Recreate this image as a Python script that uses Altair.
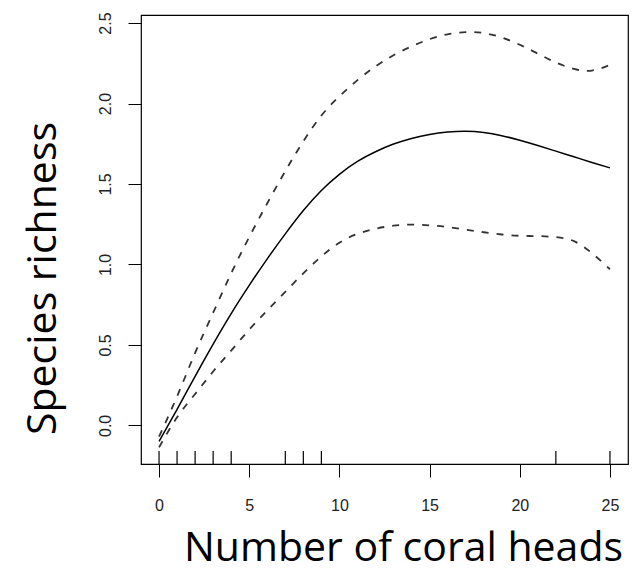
import altair as alt
import pandas as pd

# ---- data ----
x_vals = list(range(26))
fit = [-0.10, 0.10, 0.305, 0.505, 0.695, 0.87, 1.035, 1.19, 1.335, 1.46, 1.56, 1.64, 1.70,
       1.748, 1.783, 1.808, 1.823, 1.828, 1.82, 1.80, 1.772, 1.739, 1.704, 1.669, 1.634, 1.60]
upper = [-0.07, 0.18, 0.45, 0.70, 0.945, 1.17, 1.38, 1.58, 1.765, 1.925, 2.045, 2.145, 2.23,
         2.30, 2.355, 2.40, 2.43, 2.443, 2.438, 2.41, 2.365, 2.31, 2.255, 2.215, 2.205, 2.24]
lower = [-0.137, 0.05, 0.195, 0.335, 0.465, 0.595, 0.715, 0.83, 0.945, 1.05, 1.135, 1.19, 1.222,
         1.241, 1.248, 1.243, 1.232, 1.216, 1.20, 1.186, 1.178, 1.176, 1.17, 1.145, 1.07, 0.97]
rug = [0, 1, 2, 3, 4, 7, 8, 9, 22, 25]
x_ticks = [0, 5, 10, 15, 20, 25]
y_ticks = [0.0, 0.5, 1.0, 1.5, 2.0, 2.5]

fit_df = pd.DataFrame({"x": x_vals, "v": fit})
band_df = pd.concat([
    pd.DataFrame({"x": x_vals, "v": upper, "s": "upper"}),
    pd.DataFrame({"x": x_vals, "v": lower, "s": "lower"}),
])
rug_df = pd.DataFrame({"x": rug})

W, H = 487, 449

xscale = alt.Scale(domain=[-1, 26], nice=False, zero=False)
yscale = alt.Scale(domain=[-0.24, 2.55], nice=False, zero=False)

xaxis = alt.Axis(
    title="Number of coral heads", values=x_ticks, format="d",
    grid=False, domain=False, ticks=True, tickSize=13, tickColor="black", tickWidth=1,
    labelFont="Liberation Sans", labelFontSize=16, labelColor="#222",
    labelBaseline="alphabetic", labelPadding=33,
    titleFont="Open Sans", titleFontSize=41, titleFontWeight="normal", titleColor="black",
    titleX=262, titleY=96, titleAlign="center", titleBaseline="alphabetic",
)
yaxis = alt.Axis(
    title="Species richness", values=y_ticks, format=".1f",
    grid=False, domain=False, ticks=True, tickSize=13, tickColor="black", tickWidth=1,
    labelFont="Liberation Sans", labelFontSize=16, labelColor="#222",
    labelAngle=-90, labelAlign="center", labelBaseline="alphabetic", labelPadding=18,
    titleFont="Open Sans", titleFontSize=41, titleFontWeight="normal", titleColor="black",
    titleAngle=-90, titleX=-86, titleY=263, titleAlign="center", titleBaseline="alphabetic",
)

fit_line = alt.Chart(fit_df).mark_line(
    color="black", strokeWidth=1.5, interpolate="natural"
).encode(
    x=alt.X("x:Q", scale=xscale, axis=xaxis),
    y=alt.Y("v:Q", scale=yscale, axis=yaxis),
)

band_lines = alt.Chart(band_df).mark_line(
    color="#333", strokeWidth=1.8, strokeDash=[7, 8], interpolate="natural"
).encode(
    x=alt.X("x:Q", scale=xscale, axis=xaxis),
    y=alt.Y("v:Q", scale=yscale, axis=yaxis),
    detail="s:N",
)

rug_marks = alt.Chart(rug_df).mark_rule(color="black", strokeWidth=1.2).encode(
    x=alt.X("x:Q", scale=xscale, axis=xaxis),
    y=alt.value(H),
    y2=alt.value(H - 13),
)

chart = alt.layer(fit_line, band_lines, rug_marks).properties(
    width=W, height=H,
    autosize=alt.AutoSizeParams(type="none"),
    padding={"left": 141, "top": 15, "right": 16, "bottom": 107},
    background="white",
).configure_view(stroke="black", strokeWidth=1.2)

chart.save("out.html", embed_options={"renderer": "svg", "actions": False})
